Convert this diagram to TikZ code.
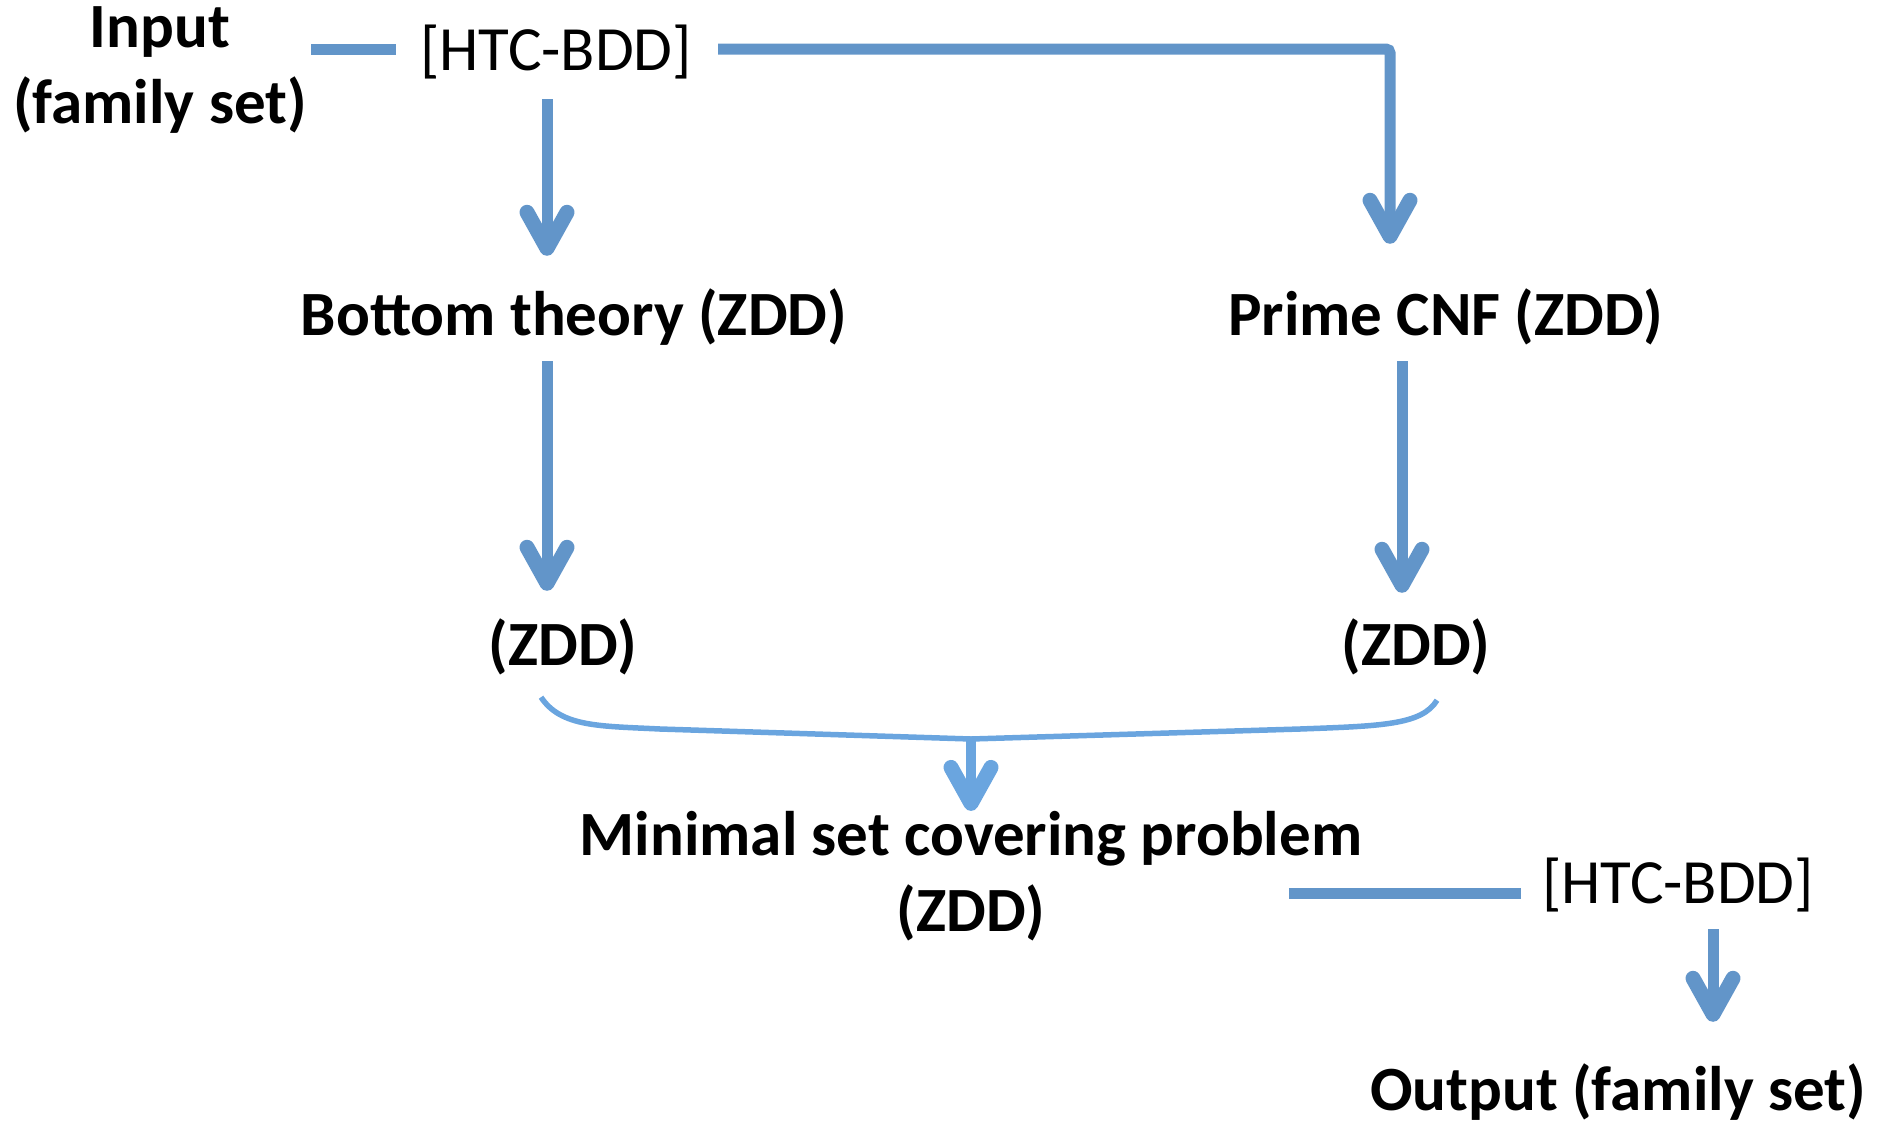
\documentclass[tikz,border=0pt]{standalone}
\usepackage{fontspec}
\setmainfont{Carlito}
\usetikzlibrary{arrows.meta,calc}
\definecolor{arrblue}{RGB}{98,149,201}
\definecolor{braceblue}{RGB}{106,165,223}
\begin{document}
\begin{tikzpicture}[x=1pt,y=-1pt,
  lbl/.style={inner sep=0pt, font=\fontsize{63}{76}\selectfont\bfseries, text height=46pt, text depth=14pt},
  ml/.style={inner sep=0pt, font=\fontsize{63}{76}\selectfont\bfseries, align=center},
  htc/.style={inner sep=0pt, font=\fontsize{63}{76}\selectfont, text height=46pt, text depth=14pt},
  conn/.style={draw=arrblue, line width=11pt},
  arr/.style={conn, -{Straight Barb[length=36pt,width=40pt,line width=15pt,round]}},
  brace/.style={draw=braceblue, line width=5.5pt},
  arrsmall/.style={draw=braceblue, line width=10pt, -{Straight Barb[length=36pt,width=40pt,line width=15pt,round]}}]
\useasboundingbox (0,0) rectangle (1885,1125);

\node[ml]  (inp) at (160,70)   {Input\\(family set)};
\node[htc] (h1)  at (556,54)   {[HTC-BDD]};
\node[lbl] (bt)  at (574,319)  {Bottom theory (ZDD)};
\node[lbl] (pc)  at (1446,319) {Prime CNF (ZDD)};
\node[lbl] (zl)  at (563,649)  {(ZDD)};
\node[lbl] (zr)  at (1416,649) {(ZDD)};
\node[ml]  (msc) at (971,876)  {Minimal set covering problem\\(ZDD)};
\node[htc] (h2)  at (1678,887) {[HTC-BDD]};
\node[lbl] (out) at (1618,1094){Output (family set)};

% top connectors
\draw[conn] ($(inp.east |- h1.west)+(4,-5)$) -- ($(h1.west)+(-24,-5)$);
\draw[arr, rounded corners=4pt] ($(h1.east)+(26,-5)$) -| ($(pc.north)+(-56,-45)$);
\draw[arr] ($(h1.south)+(-9,15)$) -- ($(bt.north)+(-27,-33)$);

% second level
\draw[arr] ($(bt.south)+(-27,12)$) -- ($(zl.north)+(-16,-28)$);
\draw[arr] ($(pc.south)+(-44,12)$) -- ($(zr.north)+(-14,-26)$);

% brace
\coordinate (bl) at ($(zl.south)+(-22,18)$);
\coordinate (br) at ($(zr.south)+(21,21)$);
\coordinate (bm) at (971,739);
\draw[brace] (bl) .. controls +(20,30) and +(-60,-3) .. (660,729) -- (bm) -- (1300,729) .. controls +(80,-3) and +(-15,25) .. (br);
\draw[arrsmall] (bm) -- (bm |- msc.north);

% bottom
\draw[conn] ($(h2.west)+(-253,6)$) -- ($(h2.west)+(-21,6)$);
\draw[arr] ($(h2.south)+(35,12)$) -- ($(out.north)+(95,-42)$);
\end{tikzpicture}
\end{document}
